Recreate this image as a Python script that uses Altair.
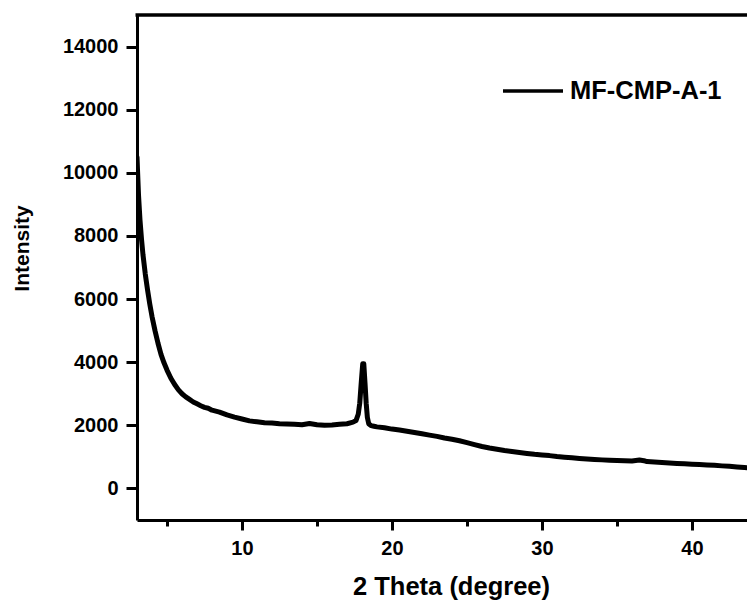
import altair as alt
import pandas as pd

# ---- data ----
two_theta = [3.0, 3.1, 3.2, 3.3, 3.4, 3.55, 3.7, 3.85, 4.0, 4.2, 4.4, 4.6, 4.8, 5.0,
             5.25, 5.5, 5.75, 6.0, 6.25, 6.5, 6.75, 7.0, 7.25, 7.5, 7.75, 8.0, 8.5,
             9.0, 9.5, 10.0, 10.5, 11.0, 11.5, 12.0, 12.5, 13.0, 13.5, 14.0, 14.5,
             15.0, 15.5, 16.0, 16.5, 17.0, 17.4, 17.6, 17.75, 17.85, 17.95, 18.05,
             18.12, 18.2, 18.28, 18.36, 18.45, 18.6, 18.8, 19.0, 19.5, 20.0, 20.5,
             21.0, 21.5, 22.0, 22.5, 23.0, 23.5, 24.0, 24.5, 25.0, 25.5, 26.0, 26.5,
             27.0, 27.5, 28.0, 28.5, 29.0, 29.5, 30.0, 30.5, 31.0, 31.5, 32.0, 32.5,
             33.0, 33.5, 34.0, 34.5, 35.0, 35.5, 36.0, 36.5, 36.8, 37.0, 37.5, 38.0,
             38.5, 39.0, 39.5, 40.0, 40.5, 41.0, 41.5, 42.0, 42.5, 43.0, 43.5, 44.0,
             44.5]
intensity = [10500, 9300, 8500, 7900, 7400, 6800, 6300, 5850, 5450, 5000, 4600, 4250,
             3980, 3750, 3500, 3300, 3130, 3000, 2900, 2820, 2740, 2680, 2620, 2570,
             2540, 2480, 2420, 2330, 2260, 2200, 2140, 2110, 2080, 2070, 2050, 2040,
             2030, 2020, 2060, 2020, 2000, 2010, 2030, 2050, 2100, 2150, 2350, 2700,
             3350, 3950, 3950, 3350, 2700, 2250, 2050, 1990, 1970, 1950, 1920, 1880,
             1850, 1810, 1770, 1730, 1690, 1650, 1600, 1560, 1510, 1450, 1390, 1330,
             1280, 1240, 1200, 1170, 1140, 1110, 1080, 1060, 1040, 1010, 990, 970,
             950, 935, 920, 905, 895, 885, 875, 870, 900, 880, 850, 835, 820, 805,
             790, 780, 765, 755, 745, 735, 715, 700, 680, 660, 640, 620]
series_name = "MF-CMP-A-1"

x_ticks = [5, 10, 15, 20, 25, 30, 35, 40]
y_ticks = [0, 1000, 2000, 3000, 4000, 5000, 6000, 7000, 8000, 9000, 10000,
           11000, 12000, 13000, 14000]
x_domain = [3, 43.67]
y_domain = [-1000, 15000]

df = pd.DataFrame({"two_theta": two_theta, "intensity": intensity,
                   "series": [series_name] * len(two_theta)})
top_df = pd.DataFrame({"y": [y_domain[1]]})

W, H = 610, 505
FONT = "Liberation Sans"

x_axis = alt.Axis(
    values=x_ticks,
    labelExpr="datum.value % 10 == 0 ? datum.label : ''",
    tickSize=alt.condition("datum.value % 10 == 0", alt.value(10), alt.value(6)),
    labelPadding=8,
    title="2 Theta (degree)",
    titleFontSize=25.5,
    titleX=314,
    titleY=74,
    titleBaseline="alphabetic",
    titleAlign="center",
)
y_axis = alt.Axis(
    values=y_ticks,
    format="d",
    labelExpr="datum.value % 2000 == 0 ? datum.label : ''",
    tickSize=alt.condition("datum.value % 2000 == 0", alt.value(11), alt.value(6)),
    labelPadding=8,
    title="Intensity",
    titleFontSize=21,
    titleAngle=270,
    titleX=-109,
    titleY=233,
    titleBaseline="alphabetic",
    titleAlign="center",
)

line = alt.Chart(df).mark_line(strokeWidth=5, clip=True, strokeJoin="round",
                               strokeCap="round").encode(
    x=alt.X("two_theta:Q", scale=alt.Scale(domain=x_domain, nice=False, zero=False), axis=x_axis),
    y=alt.Y("intensity:Q", scale=alt.Scale(domain=y_domain, nice=False, zero=False), axis=y_axis),
    color=alt.Color(
        "series:N",
        scale=alt.Scale(range=["black"]),
        legend=alt.Legend(
            title=None, orient="none", legendX=364, legendY=44,
            symbolType="stroke", symbolSize=3600, symbolStrokeWidth=3.5,
            labelFontSize=25.5, labelFont=FONT, labelFontWeight="bold",
            labelColor="black", labelOffset=5, padding=0,
        ),
    ),
)

top_border = alt.Chart(top_df).mark_rule(strokeWidth=3.5, color="black").encode(
    y=alt.Y("y:Q"), x=alt.value(-1.5), x2=alt.value(W)
)

chart = alt.layer(line, top_border).properties(
    width=W, height=H,
    autosize=alt.AutoSizeParams(type="none"),
    padding={"left": 129, "top": 7, "right": 0, "bottom": 82},
    background="white",
).configure_view(stroke=None).configure_axis(
    grid=False,
    domainColor="black", domainWidth=3,
    tickColor="black", tickWidth=3,
    labelFont=FONT, labelFontSize=20, labelFontWeight="bold", labelColor="black",
    titleFont=FONT, titleFontWeight="bold", titleColor="black",
)

chart.save("out.html", embed_options={"renderer": "svg", "actions": False})
